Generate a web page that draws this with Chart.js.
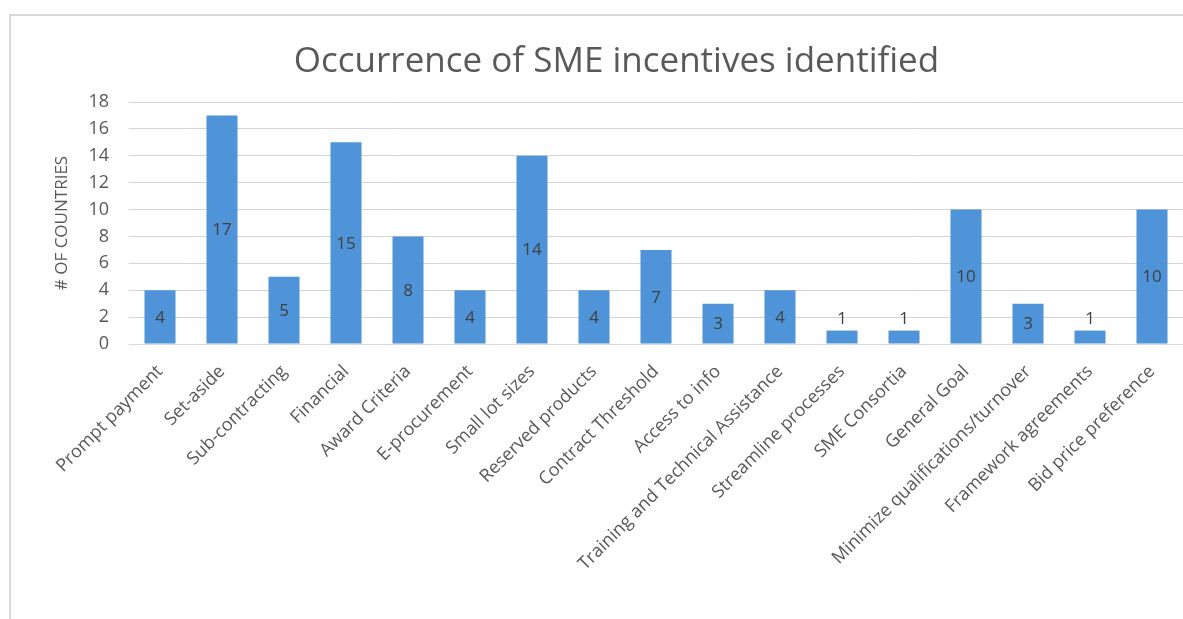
<!DOCTYPE html>
<html>
<head>
<meta charset="utf-8">
<script src="https://cdn.jsdelivr.net/npm/chart.js@4.4.1/dist/chart.umd.min.js"></script>
<style>
  html, body { margin: 0; padding: 0; background: #fff; }
  #wrap { position: relative; width: 1183px; height: 619px; }
</style>
</head>
<body>
<div id="wrap"><canvas id="chart" width="1183" height="619"></canvas></div>
<script>
// SME incentives and how many countries use each one
const incentives = ['Prompt payment', 'Set-aside', 'Sub-contracting', 'Financial', 'Award Criteria',
    'E-procurement', 'Small lot sizes', 'Reserved products', 'Contract Threshold', 'Access to info',
    'Training and Technical Assistance', 'Streamline processes', 'SME Consortia', 'General Goal',
    'Minimize qualifications/turnover', 'Framework agreements', 'Bid price preference'];
const countries = [4, 17, 5, 15, 8, 4, 14, 4, 7, 3, 4, 1, 1, 10, 3, 1, 10];
const yTicks = [0, 2, 4, 6, 8, 10, 12, 14, 16, 18];

const FONT = '"Open Sans", sans-serif';

// light frame round the chart box
const framePlugin = {
    id: 'frame',
    beforeDraw(chart) {
        const c = chart.ctx;
        c.save();
        c.strokeStyle = '#d9d9d9';
        c.lineWidth = 2;
        c.beginPath();
        c.moveTo(10, 619);
        c.lineTo(10, 15);
        c.lineTo(1183, 15);
        c.stroke();
        c.restore();
    }
};

// value labels in the middle of each bar (above it when the bar is too short)
const valueLabels = {
    id: 'valueLabels',
    afterDatasetsDraw(chart) {
        const c = chart.ctx;
        const meta = chart.getDatasetMeta(0);
        c.save();
        c.font = '17px ' + FONT;
        c.fillStyle = '#404040';
        c.textAlign = 'center';
        c.textBaseline = 'middle';
        meta.data.forEach((bar, i) => {
            const v = countries[i];
            let y = (bar.y + bar.base) / 2;
            if (bar.base - bar.y < 20) y = bar.y - 12;
            c.fillText(String(v), bar.x, y + 1);
        });
        c.restore();
    }
};

const ctx = document.querySelector('#chart').getContext('2d');
const chart = new Chart(ctx, {
    type: 'bar',
    data: {
        labels: incentives,
        datasets: [{
            label: '# of countries',
            data: countries,
            backgroundColor: '#4f93d8',
            borderWidth: 0,
            barPercentage: 0.5,
            categoryPercentage: 1
        }]
    },
    options: {
        responsive: false,
        animation: false,
        layout: {
            padding: { left: 50, right: 0, top: 0, bottom: 0 }
        },
        plugins: {
            legend: { display: false },
            tooltip: { enabled: false },
            title: {
                display: true,
                text: 'Occurrence of SME incentives identified',
                color: '#595959',
                font: { family: FONT, size: 35, weight: 'normal' },
                padding: { top: 41, bottom: 19 }
            }
        },
        scales: {
            x: {
                grid: { display: false },
                border: { display: true, color: '#d9d9d9' },
                ticks: {
                    color: '#595959',
                    font: { family: FONT, size: 18 },
                    minRotation: 45,
                    maxRotation: 45,
                    autoSkip: false,
                    padding: 9
                },
                afterFit(scale) { scale.height = 275; }
            },
            y: {
                min: 0,
                max: 18,
                afterBuildTicks(scale) {
                    const t = [];
                    for (let v = 0; v <= 18; v++) t.push({ value: v });
                    scale.ticks = t;
                },
                grid: {
                    drawTicks: false,
                    color: c => (c.tick.value % 2 === 0 ? '#d4d4d4' : '#ececec'),
                    lineWidth: 1
                },
                border: { display: false },
                ticks: {
                    color: '#595959',
                    font: { family: FONT, size: 18 },
                    padding: 20,
                    callback: v => (yTicks.includes(v) ? v : '')
                },
                title: {
                    display: true,
                    text: '# OF COUNTRIES',
                    color: '#595959',
                    font: { family: FONT, size: 17 },
                    padding: 2
                },
                afterFit(scale) { scale.width = 79; }
            }
        }
    },
    plugins: [framePlugin, valueLabels]
});
</script>
</body>
</html>
